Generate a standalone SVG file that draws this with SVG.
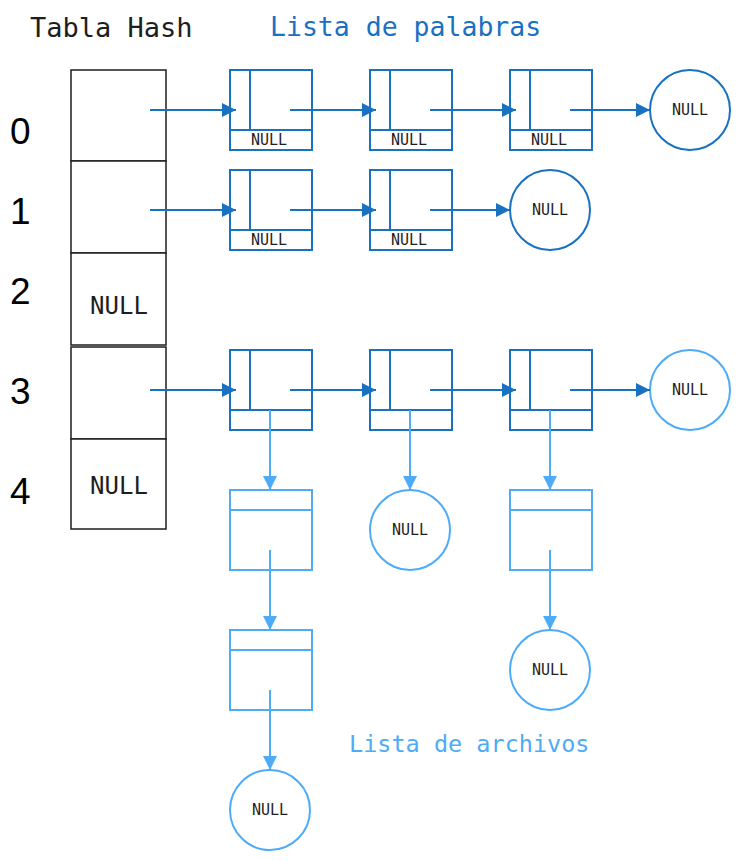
<svg xmlns="http://www.w3.org/2000/svg" width="740" height="860" viewBox="0 0 740 860">
<defs>
<style>
.hash{fill:#fff;stroke:#1e1e1e;stroke-width:1.5}
.w{fill:none;stroke:#1971c2;stroke-width:2}
.f{fill:none;stroke:#4dabf7;stroke-width:2}
.cw{fill:#fff;stroke:#1971c2;stroke-width:2}
.cf{fill:#fff;stroke:#4dabf7;stroke-width:2}
.mono{font-family:"DejaVu Sans Mono","Liberation Mono",monospace}
.num{font-family:"Liberation Sans",Arial,sans-serif;font-size:37px;fill:#000}
.sm{font-family:"DejaVu Sans Mono","Liberation Mono",monospace;font-size:15px;fill:#1e1e1e;text-anchor:middle}
.aw{stroke:#1971c2;stroke-width:2;fill:none;marker-end:url(#mw)}
.af{stroke:#4dabf7;stroke-width:2;fill:none;marker-end:url(#mf)}
</style>
<marker id="mw" viewBox="0 0 10 10" refX="10" refY="5" markerWidth="7" markerHeight="7" markerUnits="strokeWidth" orient="auto"><path d="M0,0 L10,5 L0,10 z" fill="#1971c2"/></marker>
<marker id="mf" viewBox="0 0 10 10" refX="10" refY="5" markerWidth="7" markerHeight="7" markerUnits="strokeWidth" orient="auto"><path d="M0,0 L10,5 L0,10 z" fill="#4dabf7"/></marker>
</defs>
<rect width="740" height="860" fill="#fff"/>
<text x="30" y="37" class="mono" font-size="27" fill="#1e1e1e">Tabla Hash</text>
<text x="270" y="36" class="mono" font-size="26.5" fill="#1971c2">Lista de palabras</text>
<text x="349" y="752" class="mono" font-size="23.5" fill="#4dabf7">Lista de archivos</text>
<g id="indices">
<text x="10" y="144" class="num">0</text>
<text x="10" y="224" class="num">1</text>
<text x="10" y="304" class="num">2</text>
<text x="10" y="404" class="num">3</text>
<text x="10" y="504" class="num">4</text>
</g>
<g id="hash">
<rect class="hash" x="71" y="70" width="95" height="91"/>
<rect class="hash" x="71" y="161" width="95" height="92"/>
<rect class="hash" x="71" y="253" width="95" height="92"/>
<text x="119" y="314" class="mono" font-size="24" fill="#1e1e1e" text-anchor="middle">NULL</text>
<rect class="hash" x="71" y="347" width="95" height="92"/>
<rect class="hash" x="71" y="439" width="95" height="90"/>
<text x="119" y="494" class="mono" font-size="24" fill="#1e1e1e" text-anchor="middle">NULL</text>
</g>
<g id="w00"><rect class="w" x="230" y="70" width="82" height="80"/><path class="w" d="M250,70V130M230,130H312"/><text x="269" y="145" class="sm">NULL</text></g>
<g id="w01"><rect class="w" x="370" y="70" width="82" height="80"/><path class="w" d="M390,70V130M370,130H452"/><text x="409" y="145" class="sm">NULL</text></g>
<g id="w02"><rect class="w" x="510" y="70" width="82" height="80"/><path class="w" d="M530,70V130M510,130H592"/><text x="549" y="145" class="sm">NULL</text></g>
<g id="n0"><circle class="cw" cx="690" cy="110" r="40"/><text x="690" y="115" class="sm">NULL</text></g>
<g id="w10"><rect class="w" x="230" y="170" width="82" height="80"/><path class="w" d="M250,170V230M230,230H312"/><text x="269" y="245" class="sm">NULL</text></g>
<g id="w11"><rect class="w" x="370" y="170" width="82" height="80"/><path class="w" d="M390,170V230M370,230H452"/><text x="409" y="245" class="sm">NULL</text></g>
<g id="n1"><circle class="cw" cx="550" cy="210" r="40"/><text x="550" y="215" class="sm">NULL</text></g>
<g id="w30"><rect class="w" x="230" y="350" width="82" height="80"/><path class="w" d="M250,350V410M230,410H312"/></g>
<g id="w31"><rect class="w" x="370" y="350" width="82" height="80"/><path class="w" d="M390,350V410M370,410H452"/></g>
<g id="w32"><rect class="w" x="510" y="350" width="82" height="80"/><path class="w" d="M530,350V410M510,410H592"/></g>
<g id="n3"><circle class="cf" cx="690" cy="390" r="40"/><text x="690" y="395" class="sm">NULL</text></g>
<g id="f00"><rect class="f" x="230" y="490" width="82" height="80"/><path class="f" d="M230,510H312"/></g>
<g id="f01"><rect class="f" x="230" y="630" width="82" height="80"/><path class="f" d="M230,650H312"/></g>
<g id="nf0"><circle class="cf" cx="270" cy="810" r="40"/><text x="270" y="815" class="sm">NULL</text></g>
<g id="nf1"><circle class="cf" cx="410" cy="530" r="40"/><text x="410" y="535" class="sm">NULL</text></g>
<g id="f20"><rect class="f" x="510" y="490" width="82" height="80"/><path class="f" d="M510,510H592"/></g>
<g id="nf2"><circle class="cf" cx="550" cy="670" r="40"/><text x="550" y="675" class="sm">NULL</text></g>
<g id="connectors">
<path class="aw" d="M150,110H236"/>
<path class="aw" d="M290,110H376"/>
<path class="aw" d="M430,110H516"/>
<path class="aw" d="M570,110H650"/>
<path class="aw" d="M150,210H236"/>
<path class="aw" d="M290,210H376"/>
<path class="aw" d="M430,210H510"/>
<path class="aw" d="M150,390H236"/>
<path class="aw" d="M290,390H376"/>
<path class="aw" d="M430,390H516"/>
<path class="aw" d="M570,390H650"/>
<path class="af" d="M270,410V490"/>
<path class="af" d="M270,550V630"/>
<path class="af" d="M270,690V770"/>
<path class="af" d="M410,410V490"/>
<path class="af" d="M550,410V490"/>
<path class="af" d="M550,550V630"/>
</g>
</svg>
